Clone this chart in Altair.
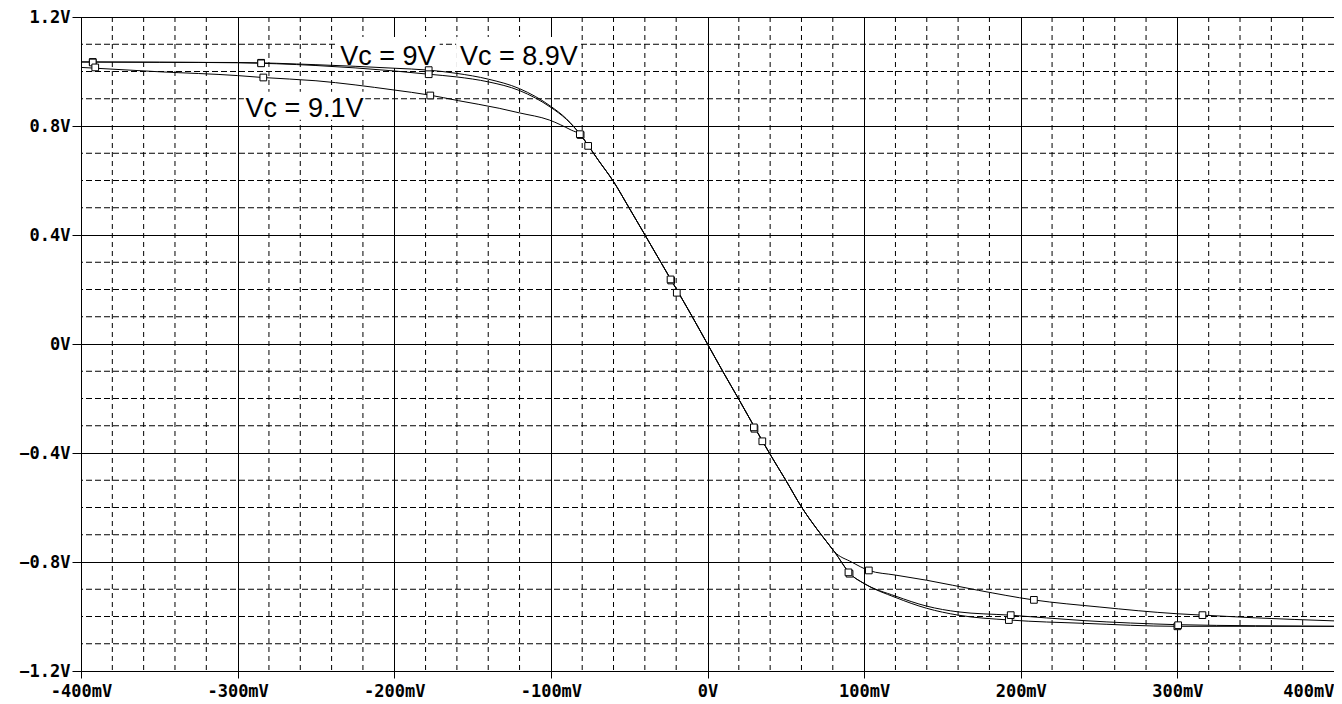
import altair as alt
import pandas as pd

# ---- axis ticks (mV on x, V on y) ----
X_TICKS = [-400, -300, -200, -100, 0, 100, 200, 300, 400]
Y_TICKS = [-1.2, -0.8, -0.4, 0.0, 0.4, 0.8, 1.2]
X_MINOR = [v for v in range(-400, 401, 20) if v % 100 != 0]
Y_MINOR = [-1.1, -1.0, -0.9, -0.7, -0.6, -0.5, -0.3, -0.2, -0.1,
           0.1, 0.2, 0.3, 0.5, 0.6, 0.7, 0.9, 1.0, 1.1]

# ---- curves ----
vc9_x = [-400, -350, -300, -250, -200, -178, -160, -140, -120, -100, -90, -81, -76, -70,
         -60, -50, -40, -30, -20, -10, 0, 10, 20, 30, 40, 50, 60, 70, 76, 81, 91, 100,
         120, 140, 160, 193, 240, 300, 350, 400]
vc9_y = [1.035, 1.034, 1.033, 1.025, 1.012, 1.005, 0.993, 0.972, 0.937, 0.872, 0.826, 0.767,
         0.727, 0.677, 0.596, 0.499, 0.401, 0.302, 0.203, 0.103, 0.0, -0.103, -0.203, -0.305,
         -0.405, -0.500, -0.598, -0.680, -0.725, -0.762, -0.843, -0.879, -0.930, -0.970,
         -0.995, -1.013, -1.025, -1.036, -1.036, -1.036]

vc89_x = vc9_x
vc89_y = [1.035, 1.034, 1.032, 1.022, 1.002, 0.990, 0.980, 0.962, 0.930, 0.868, 0.824, 0.767,
          0.727, 0.677, 0.596, 0.499, 0.401, 0.302, 0.203, 0.103, 0.0, -0.103, -0.203, -0.305,
          -0.405, -0.500, -0.598, -0.680, -0.725, -0.762, -0.843, -0.879, -0.925, -0.962,
          -0.983, -0.995, -1.015, -1.030, -1.034, -1.036]

vc91_x = [-400, -350, -300, -284, -250, -200, -178, -159, -133, -120, -101, -87, -81, -76, -70,
          -60, -50, -40, -30, -20, -10, 0, 10, 20, 30, 40, 50, 60, 70, 76, 81, 92, 103, 120,
          140, 173, 208, 250, 300, 316, 350, 400]
vc91_y = [1.015, 0.999, 0.985, 0.978, 0.966, 0.932, 0.914, 0.893, 0.865, 0.848, 0.822, 0.785,
          0.767, 0.727, 0.677, 0.596, 0.499, 0.401, 0.302, 0.203, 0.103, 0.0, -0.103, -0.203,
          -0.305, -0.405, -0.500, -0.598, -0.680, -0.725, -0.762, -0.800, -0.831, -0.848,
          -0.867, -0.904, -0.939, -0.965, -0.990, -0.995, -1.005, -1.016]

# ---- square markers ----
m9_x = [-392.5, -285, -178, -81, -23.2, 30, 90.7, 192.4, 300]
m9_y = [1.035, 1.032, 1.005, 0.767, 0.233, -0.311, -0.843, -1.013, -1.036]
m89_x = [-392.5, -285, -178, -81.5, -23.6, 29.6, 90, 193.6, 300.5]
m89_y = [1.033, 1.030, 0.990, 0.770, 0.237, -0.306, -0.838, -0.995, -1.032]
m91_x = [-390.9, -283.6, -177, -76.2, -19.6, 35, 103, 208.4, 316]
m91_y = [1.015, 0.978, 0.912, 0.727, 0.188, -0.357, -0.831, -0.939, -0.995]

# ---- curve labels ----
lab_text = ["Vc = 9V", "Vc = 8.9V", "Vc = 9.1V"]
lab_x = [-204, -120.4, -257.3]
lab_y = [1.024, 1.024, 0.834]
box_x1 = [-237, -160.5, -296]
box_x2 = [-171, -81.5, -218.5]
box_y1 = [1.127, 1.127, 0.926]
box_y2 = [1.013, 1.013, 0.823]

XS = alt.Scale(domain=[-400, 400], nice=False, zero=False)
YS = alt.Scale(domain=[-1.2, 1.2], nice=False, zero=False)
LABEL_FONT = "DejaVu Sans Mono"

x_axis = alt.Axis(
    values=X_TICKS, title=None,
    labelExpr="datum.value == 0 ? '0V' : datum.value + 'mV'",
    grid=True, gridColor="black", gridOpacity=1, gridWidth=1,
    domain=True, domainColor="black", ticks=True, tickColor="black", tickSize=7,
    labelPadding=5, labelFont=LABEL_FONT, labelFontSize=17, labelFontWeight="bold",
    labelColor="black", labelFlush=False, labelOverlap=False,
    labelAlign={"condition": {"test": "datum.value >= 400", "value": "right"}, "value": "center"},
)
y_axis = alt.Axis(
    values=Y_TICKS, title=None,
    labelExpr="datum.value == 0 ? '0V' : format(datum.value, '.1f') + 'V'",
    grid=True, gridColor="black", gridOpacity=1, gridWidth=1,
    domain=True, domainColor="black", ticks=True, tickColor="black", tickSize=9,
    labelPadding=2, labelFont=LABEL_FONT, labelFontSize=17, labelFontWeight="bold",
    labelColor="black", labelFlush=False, labelOverlap=False,
)

base_axes = alt.Chart(pd.DataFrame({"x": X_TICKS[:1], "y": Y_TICKS[:1]})).mark_point(opacity=0).encode(
    x=alt.X("x:Q", scale=XS, axis=x_axis, title=None),
    y=alt.Y("y:Q", scale=YS, axis=y_axis, title=None),
)

minor_v = alt.Chart(pd.DataFrame({"x": X_MINOR})).mark_rule(
    color="black", strokeWidth=1, strokeDash=[5, 4]
).encode(x=alt.X("x:Q", scale=XS, title=None))

minor_h = alt.Chart(pd.DataFrame({"y": Y_MINOR})).mark_rule(
    color="black", strokeWidth=1, strokeDash=[6, 3]
).encode(y=alt.Y("y:Q", scale=YS, title=None))

boxes = alt.Chart(pd.DataFrame({"x": box_x1, "x2": box_x2, "y": box_y1, "y2": box_y2})).mark_rect(
    color="white"
).encode(
    x=alt.X("x:Q", scale=XS, title=None), x2="x2:Q",
    y=alt.Y("y:Q", scale=YS, title=None), y2="y2:Q",
)


def curve(xs, ys):
    return alt.Chart(pd.DataFrame({"x": xs, "y": ys})).mark_line(
        color="black", strokeWidth=1, interpolate="monotone"
    ).encode(
        x=alt.X("x:Q", scale=XS, title=None),
        y=alt.Y("y:Q", scale=YS, title=None),
    )


def markers(xs, ys):
    return alt.Chart(pd.DataFrame({"x": xs, "y": ys})).mark_point(
        shape="square", size=45, filled=True, fill="white", stroke="black",
        strokeWidth=1, opacity=1
    ).encode(
        x=alt.X("x:Q", scale=XS, title=None),
        y=alt.Y("y:Q", scale=YS, title=None),
    )


texts = alt.Chart(pd.DataFrame({"x": lab_x, "y": lab_y, "t": lab_text})).mark_text(
    font="Liberation Sans", fontSize=27, color="black", align="center", baseline="alphabetic"
).encode(
    x=alt.X("x:Q", scale=XS, title=None),
    y=alt.Y("y:Q", scale=YS, title=None),
    text="t:N",
)

chart = alt.layer(
    base_axes, minor_v, minor_h, boxes,
    curve(vc9_x, vc9_y), curve(vc89_x, vc89_y), curve(vc91_x, vc91_y),
    markers(m9_x, m9_y), markers(m89_x, m89_y), markers(m91_x, m91_y),
    texts,
).properties(
    width=1253, height=654,
    autosize=alt.AutoSizeParams(type="none"),
    padding={"left": 73, "top": 9, "right": 0, "bottom": 30},
    background="white",
).configure_view(stroke="black", strokeWidth=1)

chart.save("out.html", embed_options={"renderer": "svg", "actions": False})
